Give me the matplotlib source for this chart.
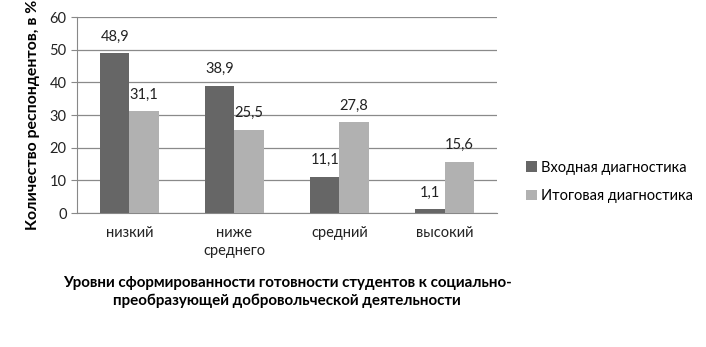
import numpy as np
import matplotlib
matplotlib.use("Agg")
import matplotlib.pyplot as plt

plt.rcParams['font.family'] = ['Lato', 'DejaVu Sans']

levels = ['низкий', 'ниже\nсреднего', 'средний', 'высокий']
entry_diag = [48.9, 38.9, 11.1, 1.1]
final_diag = [31.1, 25.5, 27.8, 15.6]
series_names = ['Входная диагностика', 'Итоговая диагностика']
yticks = [0, 10, 20, 30, 40, 50, 60]

dark = '#666666'
light = '#b1b1b1'

fig = plt.figure(figsize=(7.06, 3.47), dpi=100)
ax = fig.add_axes([0.109, 0.386, 0.595, 0.565])

x = np.arange(len(levels))
w = 0.28
b1 = ax.bar(x - w / 2, entry_diag, w, color=dark, label=series_names[0], zorder=3)
b2 = ax.bar(x + w / 2, final_diag, w, color=light, label=series_names[1], zorder=3)

for bars, vals in [(b1, entry_diag), (b2, final_diag)]:
    for bar, v in zip(bars, vals):
        ax.annotate(f"{v:.1f}".replace('.', ','),
                    (bar.get_x() + bar.get_width() / 2, bar.get_height()),
                    xytext=(0, 7), textcoords='offset points',
                    ha='center', va='bottom', fontsize=10.5, color='#222222')

ax.set_xlim(-0.5, len(levels) - 0.5)
ax.set_ylim(0, 60)
ax.set_yticks(yticks)
ax.set_xticks(x)
ax.set_xticklabels(levels, fontsize=10.5, color='#222222', linespacing=1.4)
ax.tick_params(axis='y', labelsize=10.5, colors='#222222', length=4, color='#888888')
ax.tick_params(axis='x', length=0, pad=9)
ax.yaxis.grid(True, color='#8a8a8a', linewidth=0.9, zorder=0)

for s in ['top', 'right']:
    ax.spines[s].set_visible(False)
ax.spines['left'].set_color('#888888')
ax.spines['bottom'].set_color('#888888')

ax.set_ylabel('Количество респондентов, в %', fontsize=11.4, fontweight='bold', labelpad=7)
ax.set_xlabel('Уровни сформированности готовности студентов к социально-\n'
              'преобразующей добровольческой деятельности',
              fontsize=10.9, fontweight='bold', labelpad=13, linespacing=1.35)

fig.legend(handles=[b1, b2], loc='upper left', bbox_to_anchor=(0.727, 0.575),
           frameon=False, fontsize=10.5, handlelength=0.7, handleheight=0.7,
           handletextpad=0.3, labelspacing=1.0)

fig.savefig('out.png', dpi=100)
